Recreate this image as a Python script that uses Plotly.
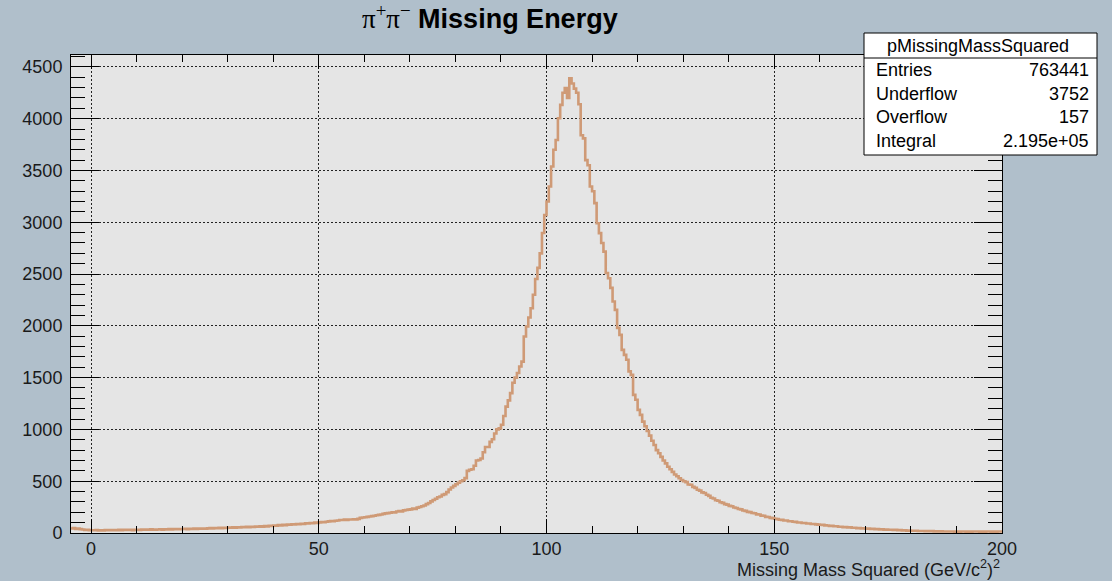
import plotly.graph_objects as go

# Histogram binning: 0.5-wide bins from -4.5 up to 200
bin_low = -4.5
bin_width = 0.5

# Bin contents, ten bins (5 units of x) per row
counts = [
    44, 48, 39, 43, 37, 34, 30, 31, 28,                # -4.5 .. 0
    27, 26, 28, 25, 27, 24, 29, 26, 28, 27,            # 0 .. 5
    29, 27, 30, 28, 31, 29, 32, 30, 28, 31,            # 5 .. 10
    32, 30, 33, 31, 34, 32, 35, 33, 31, 34,            # 10 .. 15
    35, 33, 36, 34, 37, 35, 38, 36, 39, 37,            # 15 .. 20
    38, 40, 37, 41, 39, 42, 40, 43, 41, 44,            # 20 .. 25
    42, 45, 47, 44, 48, 46, 49, 47, 51, 49,            # 25 .. 30
    52, 50, 54, 51, 56, 53, 57, 55, 59, 56,            # 30 .. 35
    60, 58, 63, 61, 65, 62, 67, 64, 70, 68,            # 35 .. 40
    73, 70, 76, 74, 78, 75, 81, 79, 84, 82,            # 40 .. 45
    87, 85, 90, 88, 93, 91, 96, 94, 100, 98,           # 45 .. 50
    103, 106, 104, 109, 112, 115, 113, 118, 121, 125,  # 50 .. 55
    126, 129, 127, 131, 130, 133, 131, 136, 146, 150,  # 55 .. 60
    152, 156, 159, 163, 167, 171, 175, 179, 185, 189,  # 60 .. 65
    192, 196, 201, 198, 207, 212, 209, 218, 222, 226,  # 65 .. 70
    228, 236, 232, 245, 251, 258, 266, 279, 290, 305,  # 70 .. 75
    318, 330, 345, 352, 368, 375, 395, 420, 440, 455,  # 75 .. 80
    470, 485, 500, 510, 530, 600, 610, 615, 650, 700,  # 80 .. 85
    705, 720, 780, 830, 830, 880, 905, 960, 1000, 1010,          # 85 .. 90
    1045, 1130, 1220, 1280, 1350, 1450, 1500, 1545, 1607, 1655,  # 90 .. 95
    1897, 1993, 2080, 2170, 2300, 2453, 2560, 2700, 2896, 3070,  # 95 .. 100
    3200, 3345, 3538, 3700, 3795, 4005, 4133, 4250, 4295, 4200,  # 100 .. 105
    4390, 4340, 4290, 4250, 4140, 3840, 3810, 3600, 3550, 3345,  # 105 .. 110
    3300, 3185, 2990, 2895, 2800, 2717, 2510, 2460, 2367, 2235,  # 110 .. 115
    2154, 1980, 1913, 1768, 1720, 1672, 1560, 1527, 1334, 1286,  # 115 .. 120
    1189, 1140, 1075, 1030, 985, 940, 890, 850, 800, 770,        # 120 .. 125
    735, 700, 672, 640, 615, 590, 565, 548, 528, 512,  # 125 .. 130
    500, 491, 468, 466, 445, 436, 418, 409, 392, 386,  # 130 .. 135
    369, 358, 340, 333, 316, 312, 297, 291, 279, 274,  # 135 .. 140
    262, 258, 246, 242, 231, 228, 217, 214, 204, 202,  # 140 .. 145
    193, 190, 180, 178, 168, 166, 156, 155, 146, 144,  # 145 .. 150
    137, 134, 128, 127, 121, 120, 114, 113, 108, 107,  # 150 .. 155
    102, 101, 97, 97, 92, 91, 87, 87, 83, 81,          # 155 .. 160
    79, 78, 74, 73, 69, 69, 65, 65, 61, 60,            # 160 .. 165
    57, 57, 53, 54, 50, 51, 47, 48, 44, 45,            # 165 .. 170
    42, 42, 39, 40, 37, 38, 35, 36, 33, 34,            # 170 .. 175
    31, 32, 29, 30, 27, 28, 25, 26, 23, 24,            # 175 .. 180
    22, 21, 22, 20, 19, 20, 18, 19, 17, 18,            # 180 .. 185
    16, 17, 15, 16, 15, 14, 15, 14, 14, 13,            # 185 .. 190
    14, 13, 14, 15, 13, 14, 13, 14, 15, 14,            # 190 .. 195
    13, 14, 13, 15, 14, 13, 14, 13, 14, 14,            # 195 .. 200
]

x_tick_step, x_minor_step = 50, 10
y_tick_step, y_minor_step = 500, 100

stats_title = "pMissingMassSquared"
stats_labels = ["Entries", "Underflow", "Overflow", "Integral"]
stats_values = ["763441", "3752", "157", "2.195e+05"]

edges = [bin_low + i * bin_width for i in range(len(counts) + 1)]
step_y = counts + [counts[-1]]

# Frame of the plotting area in pixels
L, R, T, B = 71, 1002, 55, 533
W, H = 1112, 581


def fx(px):
    return (px - L) / (R - L)


def fy(py):
    return (B - py) / (B - T)


PAPER = "#B0BFCB"
LINE = "#CF9A76"
FONT = "Liberation Sans"

fig = go.Figure()
fig.add_trace(go.Scatter(
    x=edges, y=step_y, mode="lines",
    line=dict(shape="hv", color=LINE, width=2.6),
    hoverinfo="skip", showlegend=False,
))

axis_common = dict(
    tickmode="linear", tick0=0,
    showline=True, linecolor="black", linewidth=1, mirror="allticks",
    ticks="inside", tickcolor="black", tickwidth=1.3,
    showgrid=True, gridcolor="#222222", gridwidth=1, griddash="2px,2px",
    zeroline=False, layer="above traces",
    tickfont=dict(family=FONT, size=18, color="#1a1a1a"),
)

fig.update_layout(
    width=W, height=H,
    margin=dict(l=L, r=W - R, t=T, b=H - B, pad=0),
    paper_bgcolor=PAPER, plot_bgcolor="#E5E5E5",
    showlegend=False,
    xaxis=dict(
        range=[-4.4, 200], dtick=x_tick_step, ticklen=14,
        minor=dict(tickmode="linear", tick0=0, dtick=x_minor_step, ticklen=7,
                   ticks="inside", tickcolor="black", tickwidth=1.3, showgrid=False),
        ticklabelstandoff=-1,
        **axis_common,
    ),
    yaxis=dict(
        range=[0, 4615], dtick=y_tick_step, ticklen=28,
        minor=dict(tickmode="linear", tick0=0, dtick=y_minor_step, ticklen=14,
                   ticks="inside", tickcolor="black", tickwidth=1.3, showgrid=False),
        ticklabelstandoff=4,
        **axis_common,
    ),
)

annotations = []
# Title
annotations.append(dict(
    xref="paper", yref="paper", x=fx(490), y=fy(17),
    xanchor="center", yanchor="middle", showarrow=False,
    text=("<span style='font-family:Liberation Serif'>π<sup>+</sup>π<sup>−</sup></span>"
          " <b>Missing Energy</b>"),
    font=dict(family=FONT, size=27, color="black"),
))
# X axis title, right aligned to the frame
annotations.append(dict(
    xref="paper", yref="paper", x=fx(1002), y=fy(568),
    xanchor="right", yanchor="middle", showarrow=False,
    text="Missing Mass Squared (GeV/c<sup>2</sup>)<sup>2</sup>",
    font=dict(family=FONT, size=18, color="#1a1a1a"),
))

# Statistics box
bx0, bx1, by0, by1, hsep = 864, 1097, 33, 155, 58
shapes = [
    dict(type="rect", xref="paper", yref="paper",
         x0=fx(bx0), x1=fx(bx1), y0=fy(by1), y1=fy(by0),
         fillcolor="white", line=dict(color="black", width=1), layer="above"),
    dict(type="line", xref="paper", yref="paper",
         x0=fx(bx0), x1=fx(bx1), y0=fy(hsep), y1=fy(hsep),
         line=dict(color="black", width=1), layer="above"),
]
annotations.append(dict(
    xref="paper", yref="paper", x=fx(978), y=fy(46),
    xanchor="center", yanchor="middle", showarrow=False,
    text=stats_title, font=dict(family=FONT, size=18, color="black"),
))
row_y = [70, 94, 117, 141]
for lab, val, ry in zip(stats_labels, stats_values, row_y):
    annotations.append(dict(
        xref="paper", yref="paper", x=fx(874), y=fy(ry),
        xanchor="left", yanchor="middle", showarrow=False,
        text=lab, font=dict(family=FONT, size=18, color="black"),
    ))
    annotations.append(dict(
        xref="paper", yref="paper", x=fx(1091), y=fy(ry),
        xanchor="right", yanchor="middle", showarrow=False,
        text=val, font=dict(family=FONT, size=18, color="black"),
    ))

fig.update_layout(annotations=annotations, shapes=shapes)
fig.write_html("out.html")
